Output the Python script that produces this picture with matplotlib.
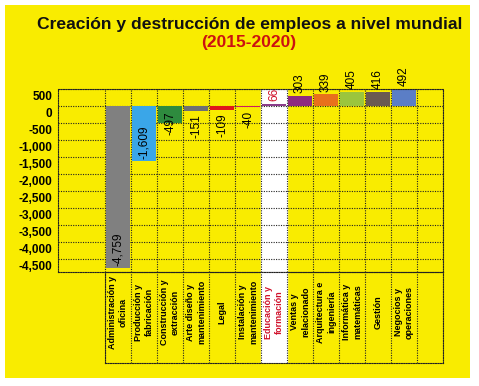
import numpy as np
import matplotlib
matplotlib.use('Agg')
import matplotlib.pyplot as plt
from matplotlib.patches import Rectangle
from matplotlib.transforms import ScaledTranslation

plt.rcParams['font.family'] = ['Liberation Sans', 'DejaVu Sans']

# --- Data ---
categories = ['Administración y\noficina', 'Producción y\nfabricación',
              'Construcción y\nextracción', 'Arte diseño y\nmantenimiento',
              'Legal', 'Instalación y\nmantenimiento', 'Educación y\nformación',
              'Ventas y\nrelacionado', 'Arquitectura e\ningeniería',
              'Informática y\nmatemáticas', 'Gestión', 'Negocios y\noperaciones']
values = [-4759, -1609, -497, -151, -109, -40, 66, 303, 339, 405, 416, 492]
bar_colors = ['#808080', '#3aa6e8', '#2e8b3e', '#6d6f73', '#e0161b', '#cf1d5f',
              '#8a3d8a', '#8e2b7f', '#e8701c', '#9bc53d', '#6b5a52', '#5b7ec6']
yticks = np.arange(500, -5000, -500)
highlight = 6  # Educación y formación

W, H = 479, 386
YELLOW = '#f9ec00'
GRID = dict(color='#222222', linewidth=0.8, linestyle=(0, (1, 1.2)))

fig = plt.figure(figsize=(W / 100, H / 100), dpi=100)
fig.patch.set_facecolor('white')
fig.add_artist(Rectangle((5 / W, 8 / H), 465 / W, 373 / H, transform=fig.transFigure,
                         facecolor=YELLOW, edgecolor='none', zorder=0))

# main plot
ax = fig.add_axes([58 / W, (H - 272) / H, 385 / W, 183 / H])
ax.set_facecolor('none')
x = np.arange(len(values))
ax.axvspan(highlight - 0.5, highlight + 0.5, color='white', zorder=0)
ax.bar(x, values, width=0.92, color=bar_colors, zorder=2)
ax.set_xlim(-2.31, len(values) + 0.5)
ax.set_ylim(-4880, 500)

for yv in yticks:
    ax.axhline(yv, zorder=1, **GRID)
for xv in np.arange(-0.5, len(values) + 1, 1):
    ax.axvline(xv, zorder=1, **GRID)
for sp in ax.spines.values():
    sp.set(**GRID)

ax.set_xticks([])
ax.set_yticks(yticks)
ax.set_yticklabels([f'{v:,}' for v in yticks], fontsize=8.5, fontweight='bold')
ax.tick_params(axis='y', length=0, pad=4)
off = ScaledTranslation(0, -6.5 / 100, fig.dpi_scale_trans)
for lab in ax.get_yticklabels():
    lab.set_transform(lab.get_transform() + off)

# value labels
for i, v in enumerate(values):
    col = '#d0102a' if i == highlight else 'black'
    kw = dict(rotation=90, ha='center', fontsize=8.5, color=col,
              textcoords='offset points', zorder=4)
    if v >= 0:
        ax.annotate(f'{v:,}', (i, v), xytext=(0, 2), va='bottom', **kw)
    elif v <= -1000:
        ax.annotate(f'{v:,}', (i, v), xytext=(0, 1.5), va='bottom', **kw)
    elif v <= -400:
        ax.annotate(f'{v:,}', (i, v), xytext=(0, 0), va='center', **kw)
    else:
        ax.annotate(f'{v:,}', (i, v), xytext=(0, -2.5), va='top', **kw)

# category label table
lx = fig.add_axes([105 / W, (H - 363) / H, 338 / W, 91 / H])
lx.set_facecolor('none')
lx.set_xlim(-0.5, len(values) + 0.5)
lx.set_ylim(0, 1)
lx.axvspan(highlight - 0.5, highlight + 0.5, color='white', zorder=0)
for xv in np.arange(-0.5, len(values) + 1, 1):
    lx.axvline(xv, zorder=1, **GRID)
for sp in lx.spines.values():
    sp.set(**GRID)
lx.set_xticks([])
lx.set_yticks([])
for i, c in enumerate(categories):
    col = '#d0102a' if i == highlight else 'black'
    lx.text(i, 0.56, c, rotation=90, ha='center', va='center', fontsize=6.5,
            fontweight='bold', color=col, multialignment='center', linespacing=1.3)

fig.text(250 / W, 1 - 24 / H, 'Creación y destrucción de empleos a nivel mundial',
         ha='center', va='center', fontsize=12.6, fontweight='bold', color='#111111')
fig.text(249 / W, 1 - 43 / H, '(2015-2020)', ha='center', va='center',
         fontsize=12.5, fontweight='bold', color='#cc1111')

fig.savefig('out.png', dpi=100)
